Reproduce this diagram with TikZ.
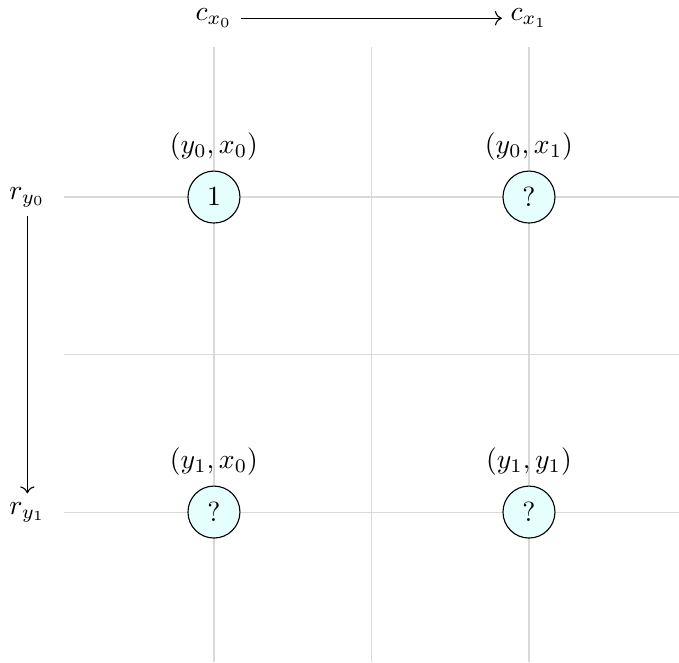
\documentclass[tikz,border=0pt]{standalone}
\usepackage{amsmath,amssymb}
\usepackage{tikz}
\usetikzlibrary{arrows.meta,positioning}
\usepackage{xcolor}
\definecolor{cellfill}{HTML}{E5FFFF}

\begin{document}
\begin{tikzpicture}[
  cell/.style={draw, circle, fill=cellfill, minimum size=0.66cm, inner sep=0pt},
  axis/.style={inner sep=3pt}
]
  \useasboundingbox (-2.717,-5.905) rectangle (5.905,2.502);

  % Grid
  \draw[gray!30, step=2] (-1.905,-5.905) grid (5.905,1.905);

  % Cells
  \node[cell, label=above:{$(y_0,x_0)$}] (c00) at (0,0) {$1$};
  \node[cell, label=above:{$(y_0,x_1)$}] (c01) at (4,0) {$?$};
  \node[cell, label=above:{$(y_1,x_0)$}] (c10) at (0,-4) {$?$};
  \node[cell, label=above:{$(y_1,y_1)$}] (c11) at (4,-4) {$?$};

  % Column and row indices
  \node[axis] (cx0) at (0,2.27) {$c_{x_0}$};
  \node[axis] (cx1) at (4,2.27) {$c_{x_1}$};
  \draw[->] (cx0) -- (cx1);

  \node[axis] (ry0) at (-2.37,0) {$r_{y_0}$};
  \node[axis] (ry1) at (-2.37,-4) {$r_{y_1}$};
  \draw[->] (ry0) -- (ry1);
\end{tikzpicture}
\end{document}
